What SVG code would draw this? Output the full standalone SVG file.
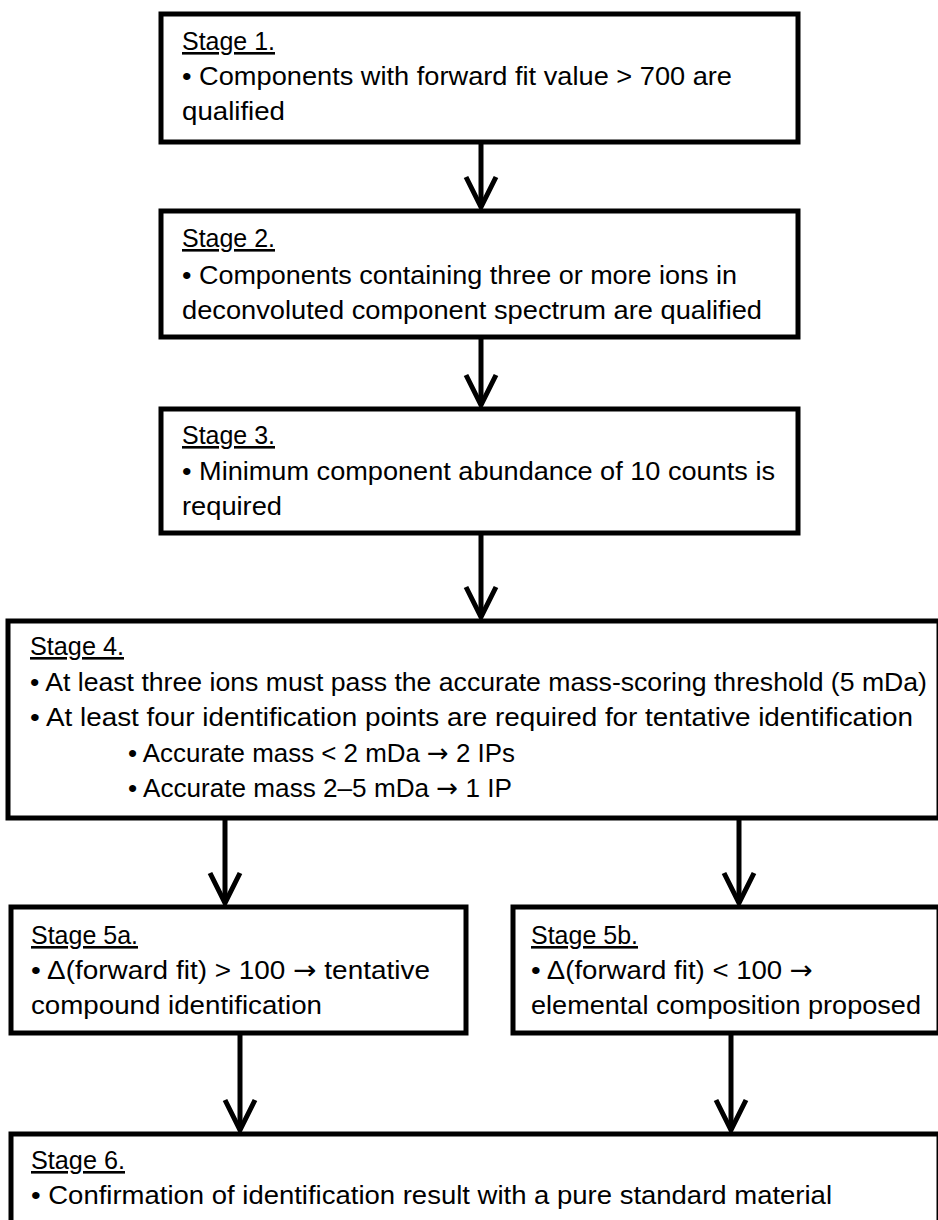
<svg xmlns="http://www.w3.org/2000/svg" width="938" height="1220" viewBox="0 0 938 1220">
<style>
.box{fill:#fff;stroke:#000;stroke-width:5}
.t{font-family:"Liberation Sans",Arial,sans-serif;font-size:26px;fill:#000}
.h{text-decoration:underline}
.a{font-family:"DejaVu Sans",sans-serif}
.c{fill:none;stroke:#000;stroke-width:5}
</style>
<defs>
<marker id="ah" markerUnits="userSpaceOnUse" viewBox="-34 -20 38 40" markerWidth="38" markerHeight="40" refX="0" refY="0" orient="auto">
<path d="M-30,-15 L0,0 L-30,15" fill="none" stroke="#000" stroke-width="5"/>
</marker>
</defs>
<rect width="938" height="1220" fill="#fff"/>
<g id="connectors">
<line class="c" x1="481" y1="142" x2="481" y2="207" marker-end="url(#ah)"/>
<line class="c" x1="481" y1="337" x2="481" y2="405" marker-end="url(#ah)"/>
<line class="c" x1="481" y1="533" x2="481" y2="617" marker-end="url(#ah)"/>
<line class="c" x1="225" y1="818" x2="225" y2="903" marker-end="url(#ah)"/>
<line class="c" x1="739" y1="818" x2="739" y2="903" marker-end="url(#ah)"/>
<line class="c" x1="240" y1="1033" x2="240" y2="1130" marker-end="url(#ah)"/>
<line class="c" x1="731" y1="1033" x2="731" y2="1130" marker-end="url(#ah)"/>
</g>
<g id="stage1">
<rect class="box" x="161" y="14" width="637" height="128"/>
<text class="t h" x="182" y="50" textLength="93" lengthAdjust="spacingAndGlyphs">Stage 1.</text>
<text class="t" x="182" y="85" textLength="550" lengthAdjust="spacingAndGlyphs">• Components with forward fit value &gt; 700 are</text>
<text class="t" x="182" y="120" textLength="103" lengthAdjust="spacingAndGlyphs">qualified</text>
</g>
<g id="stage2">
<rect class="box" x="161" y="211" width="637" height="126"/>
<text class="t h" x="182" y="247" textLength="93" lengthAdjust="spacingAndGlyphs">Stage 2.</text>
<text class="t" x="182" y="284" textLength="555" lengthAdjust="spacingAndGlyphs">• Components containing three or more ions in</text>
<text class="t" x="182" y="319" textLength="580" lengthAdjust="spacingAndGlyphs">deconvoluted component spectrum are qualified</text>
</g>
<g id="stage3">
<rect class="box" x="161" y="409" width="637" height="124"/>
<text class="t h" x="182" y="444" textLength="93" lengthAdjust="spacingAndGlyphs">Stage 3.</text>
<text class="t" x="182" y="480" textLength="593" lengthAdjust="spacingAndGlyphs">• Minimum component abundance of 10 counts is</text>
<text class="t" x="182" y="515" textLength="100" lengthAdjust="spacingAndGlyphs">required</text>
</g>
<g id="stage4">
<rect class="box" x="8" y="621" width="931" height="197"/>
<text class="t h" x="30" y="655" textLength="94" lengthAdjust="spacingAndGlyphs">Stage 4.</text>
<text class="t" x="30" y="691" textLength="897" lengthAdjust="spacingAndGlyphs">• At least three ions must pass the accurate mass-scoring threshold (5 mDa)</text>
<text class="t" x="30" y="726" textLength="883" lengthAdjust="spacingAndGlyphs">• At least four identification points are required  for tentative identification</text>
<text class="t" x="128" y="762" textLength="387" lengthAdjust="spacingAndGlyphs">• Accurate mass &lt; 2 mDa <tspan class="a">→</tspan> 2 IPs</text>
<text class="t" x="128" y="797" textLength="384" lengthAdjust="spacingAndGlyphs">• Accurate mass 2–5 mDa <tspan class="a">→</tspan>  1 IP</text>
</g>
<g id="stage5a">
<rect class="box" x="11" y="907" width="455" height="126"/>
<text class="t h" x="31" y="944" textLength="107" lengthAdjust="spacingAndGlyphs">Stage 5a.</text>
<text class="t" x="31" y="979" textLength="399" lengthAdjust="spacingAndGlyphs">• Δ(forward fit) &gt; 100 <tspan class="a">→</tspan> tentative</text>
<text class="t" x="31" y="1014" textLength="291" lengthAdjust="spacingAndGlyphs">compound identification</text>
</g>
<g id="stage5b">
<rect class="box" x="513" y="907" width="426" height="126"/>
<text class="t h" x="531" y="944" textLength="107" lengthAdjust="spacingAndGlyphs">Stage 5b.</text>
<text class="t" x="531" y="979" textLength="282" lengthAdjust="spacingAndGlyphs">• Δ(forward fit) &lt; 100 <tspan class="a">→</tspan></text>
<text class="t" x="531" y="1014" textLength="390" lengthAdjust="spacingAndGlyphs">elemental composition proposed</text>
</g>
<g id="stage6">
<rect class="box" x="11" y="1134" width="928" height="100"/>
<text class="t h" x="31" y="1169" textLength="94" lengthAdjust="spacingAndGlyphs">Stage 6.</text>
<text class="t" x="31" y="1204" textLength="801" lengthAdjust="spacingAndGlyphs">• Confirmation of identification result with a pure standard material</text>
</g>
</svg>
